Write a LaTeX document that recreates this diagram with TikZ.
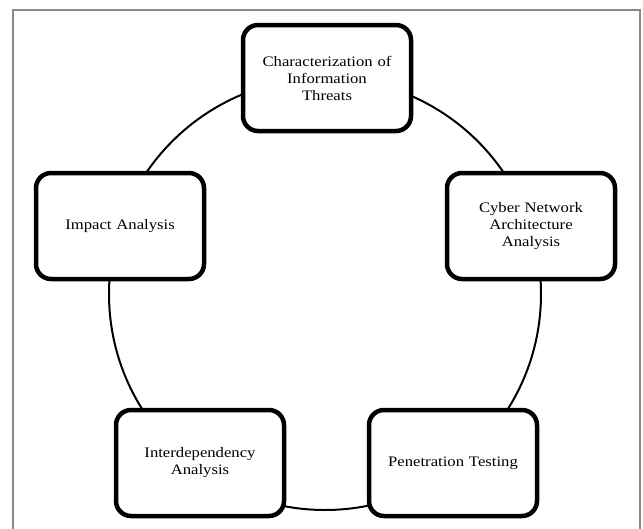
\documentclass[tikz,border=0pt]{standalone}
\usepackage{fontspec}
\setmainfont{Liberation Serif}[FakeStretch=1.15]
\begin{document}
\begin{tikzpicture}[x=1pt,y=-1pt,
  stage/.style={draw=black, line width=4.5pt, rounded corners=15pt, fill=white,
    minimum width=168pt, minimum height=106pt, align=center, inner sep=2pt,
    font=\fontsize{14.5}{17}\selectfont, text width=150pt},
  ring/.style={draw=black, line width=2pt}]
\useasboundingbox (0,0) rectangle (643,528);
\clip (0,0) rectangle (643,528);
\fill[white] (0,0) rectangle (643,528);
\draw[draw={rgb,255:red,130;green,140;blue,136}, line width=2pt] (13,10) rectangle (640,540);
\coordinate (c) at (325,294);
\draw[ring] (c) circle[radius=216pt];
\node[stage] (threats) at (327,78) {Characterization of\\Information\\Threats};
\node[stage] (cyber) at (531,226) {Cyber Network\\Architecture\\Analysis};
\node[stage] (impact) at (120,226) {Impact Analysis};
\node[stage] (inter) at (200,463) {Interdependency\\Analysis};
\node[stage] (pen) at (453,463) {Penetration Testing};
\end{tikzpicture}
\end{document}
